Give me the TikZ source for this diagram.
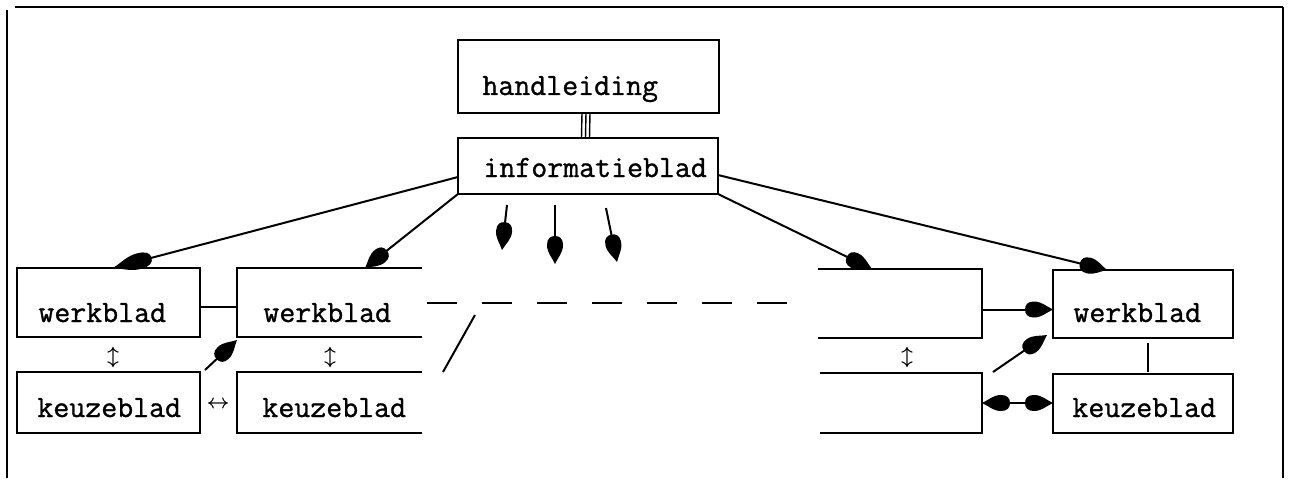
\documentclass[tikz,border=0pt]{standalone}
\usepackage{fontspec}
\newfontfamily\bladfont{Latin Modern Mono}[FakeBold=1.0]
\usetikzlibrary{arrows.meta,calc}

% filled teardrop tip: rounded back, pointed front
\pgfdeclarearrow{
  name = Drop,
  parameters = {\the\pgfarrowlength,\the\pgfarrowwidth},
  setup code = {
    \pgfarrowssettipend{0pt}
    \pgfarrowssetbackend{-\pgfarrowlength}
    \pgfarrowssetlineend{-0.6\pgfarrowlength}
    \pgfarrowssavethe\pgfarrowlength
    \pgfarrowssavethe\pgfarrowwidth
  },
  drawing code = {
    \pgfpathmoveto{\pgfqpoint{0pt}{0pt}}
    \pgfpathcurveto{\pgfqpoint{-0.25\pgfarrowlength}{0.2\pgfarrowwidth}}{\pgfqpoint{-0.4\pgfarrowlength}{0.5\pgfarrowwidth}}{\pgfqpoint{-0.68\pgfarrowlength}{0.5\pgfarrowwidth}}
    \pgfpathcurveto{\pgfqpoint{-0.9\pgfarrowlength}{0.5\pgfarrowwidth}}{\pgfqpoint{-\pgfarrowlength}{0.3\pgfarrowwidth}}{\pgfqpoint{-\pgfarrowlength}{0pt}}
    \pgfpathcurveto{\pgfqpoint{-\pgfarrowlength}{-0.3\pgfarrowwidth}}{\pgfqpoint{-0.9\pgfarrowlength}{-0.5\pgfarrowwidth}}{\pgfqpoint{-0.68\pgfarrowlength}{-0.5\pgfarrowwidth}}
    \pgfpathcurveto{\pgfqpoint{-0.4\pgfarrowlength}{-0.5\pgfarrowwidth}}{\pgfqpoint{-0.25\pgfarrowlength}{-0.2\pgfarrowwidth}}{\pgfqpoint{0pt}{0pt}}
    \pgfpathclose
    \pgfusepathqfill
  },
  defaults = {length = 14pt, width = 8pt}
}

\tikzset{
  blad/.style={rectangle, anchor=north west, inner sep=0pt, outer sep=0pt},
  dichtblad/.style={blad, draw, line width=1pt},
  txt/.style={anchor=base west, inner sep=0pt, font=\bladfont\fontsize{15.5}{18}\selectfont},
  sym/.style={inner sep=0pt, font=\fontsize{10}{10}\selectfont\boldmath},
  rand/.style={line width=1.1pt},
  lijn/.style={line width=1pt},
  pijl/.style={lijn, -{Drop}},
  tweepijl/.style={lijn, {Drop}-{Drop}},
}

\begin{document}
\begin{tikzpicture}[x=0.5pt, y=-0.5pt]
\useasboundingbox (0,0) rectangle (1292,481);

% outer frame (open at the bottom)
\draw[rand] (15,7) -- (1283,7);
\draw[rand] (7,10) -- (7,478);
\draw[rand] (1283,7) -- (1283,478);

% central sheets
\node[dichtblad, minimum width=130.5pt, minimum height=36.5pt] (h) at (458,40) {};
\node[dichtblad, minimum width=130pt, minimum height=28pt] (i) at (458,138) {};
\node[txt] (th) at (482,95) {handleiding};
\node[txt] (ti) at (483,177) {informatieblad};

% left pair of columns
\node[dichtblad, minimum width=91.5pt, minimum height=34.5pt] (w1) at (17,268) {};
\node[dichtblad, minimum width=91.5pt, minimum height=30.5pt] (k1) at (17,372) {};
\node[blad, minimum width=92.5pt, minimum height=34.5pt] (w2) at (237,268) {};
\node[blad, minimum width=92.5pt, minimum height=30.5pt] (k2) at (237,372) {};
\draw[line width=1pt] (w2.north east) -- (w2.north west) -- (w2.south west) -- (w2.south east);
\draw[line width=1pt] (k2.north east) -- (k2.north west) -- (k2.south west) -- (k2.south east);
\node[txt] (tw1) at (38,322) {werkblad};
\node[txt] (tk1) at (37,417) {keuzeblad};
\node[txt] (tw2) at (263,322) {werkblad};
\node[txt] (tk2) at (262,417) {keuzeblad};

% right pair of columns
\node[blad, minimum width=82pt, minimum height=34.5pt] (b3) at (818,269) {};
\node[blad, minimum width=81pt, minimum height=30pt] (b4) at (820,373) {};
\draw[line width=1pt] (b3.north west) -- (b3.north east) -- (b3.south east) -- (b3.south west);
\draw[line width=1pt] (b4.north west) -- (b4.north east) -- (b4.south east) -- (b4.south west);
\node[dichtblad, minimum width=90pt, minimum height=34pt] (w4) at (1053,270) {};
\node[dichtblad, minimum width=90pt, minimum height=29.5pt] (k4) at (1053,374) {};
\node[txt] (tw4) at (1073,322) {werkblad};
\node[txt] (tk4) at (1072,417) {keuzeblad};

% small two-way signs
\node[sym] (s1) at (113,357) {$\updownarrow$};
\node[sym] (s2) at (330,357) {$\updownarrow$};
\node[sym] (s3) at (907,357) {$\updownarrow$};
\node[sym] (s4) at (218,405) {$\leftrightarrow$};

% handleiding -- informatieblad
\foreach \dx in {-6.5,-2.5,1.5}
  \draw[line width=0.7pt] ($(h.south)+(\dx,0)$) -- ($(i.north)+(\dx,0)$);

% from the information sheet to the work sheets
\draw[pijl, {Drop[length=20pt]}-] ($(w1.north west)+(96,0)$) -- ($(i.west)+(0,11)$);
\draw[pijl] (i.south west) -- ($(w2.north west)+(128,0)$);
\draw[pijl] (i.south east) -- ($(b3.north west)+(54,0)$);
\draw[pijl] ($(i.east)+(0,9)$) -- ($(w4.north west)+(54,0)$);

% loose arrows below the information sheet
\coordinate (p1) at (502,250);
\coordinate (p2) at (555,264);
\coordinate (p3) at (617,262);
\draw[pijl] ($(i.south)+(-81,11)$) -- (p1);
\draw[pijl] ($(i.south)+(-33,11)$) -- (p2);
\draw[pijl] ($(i.south)+(18,14)$) -- (p3);

% links inside the left columns
\coordinate (w1r) at ($(w1.east)+(0,4)$);
\draw[lijn] (w1r) -- (w1r -| w2.west);
\draw[pijl] ($(k1.north east)+(5,-2)$) -- ($(w2.south west)+(0,3)$);

% continuation between the columns
\coordinate (d0) at (427,303);
\coordinate (d1) at (797,303);
\draw[line width=1pt, dash pattern=on 15pt off 12.5pt] (d0) -- (d1);
\coordinate (g0) at (475,315);
\coordinate (g1) at (443,372);
\draw[lijn] (g0) -- (g1);

% links inside the right columns
\coordinate (b3r) at ($(b3.east)+(0,6)$);
\draw[pijl] (b3r) -- (b3r -| w4.west);
\draw[tweepijl] (b4.east) -- (b4.east -| k4.west);
\draw[pijl] ($(b4.north east)+(11,-1)$) -- ($(w4.south west)+(-6,-3)$);
\draw[line width=1pt] ($(w4.south)+(5,5)$) -- ($(k4.north)+(5,-2)$);
\end{tikzpicture}
\end{document}
